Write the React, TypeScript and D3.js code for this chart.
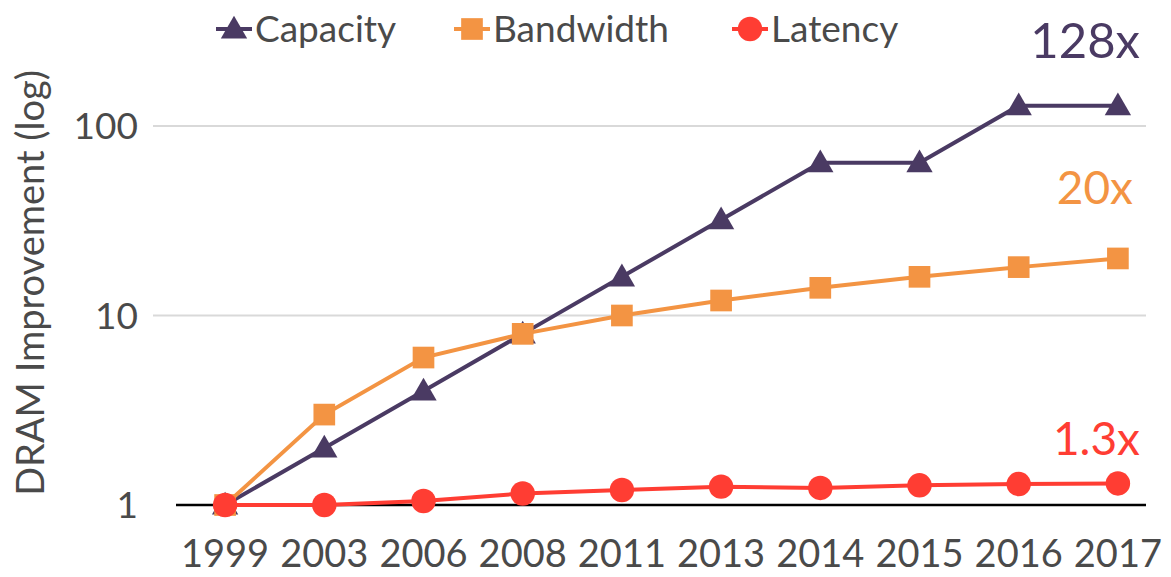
import React from "react";
import * as d3 from "d3";

const years = ["1999", "2003", "2006", "2008", "2011", "2013", "2014", "2015", "2016", "2017"];
const capacity = [1, 2, 4, 8, 16, 32, 64, 64, 128, 128];
const bandwidth = [1, 3, 6, 8, 10, 12, 14, 16, 18, 20];
const latency = [1, 1, 1.05, 1.15, 1.2, 1.25, 1.23, 1.27, 1.29, 1.3];
const yTicks = [1, 10, 100];
const gridValues = [10, 100];
const seriesNames = ["Capacity", "Bandwidth", "Latency"];
const endLabels = ["128x", "20x", "1.3x"];

const W = 1171;
const H = 577;
const FONT = "Lato, 'Open Sans', sans-serif";
const TEXT = "#4a4a4a";
const COLORS = ["#4a3a63", "#f39443", "#ff3d33"];

const x = d3.scaleBand<string>().domain(years).range([175.5, 1167.5]).padding(0);
const y = d3.scaleLog().domain([1, 1000]).range([505, 505 - 3 * 189.5]);
const cx = (d: string) => (x(d) as number) + x.bandwidth() / 2;

const line = d3
  .line<number>()
  .x((_, i) => cx(years[i]))
  .y((v) => y(v));

const triangle = d3.symbol(d3.symbolTriangle, 300)();
const square = d3.symbol(d3.symbolSquare, 470)();
const circle = d3.symbol(d3.symbolCircle, 470)();

function Marker({ kind, color, tx, ty }: { kind: number; color: string; tx: number; ty: number }) {
  const path = kind === 0 ? triangle : kind === 1 ? square : circle;
  const dy = kind === 0 ? 2 : 0;
  return <path d={path!} fill={color} transform={`translate(${tx},${ty + dy})`} />;
}

export default function App() {
  const series = [capacity, bandwidth, latency];
  const legendX = [234, 472, 750];
  const labelPos = [
    { x: 1140, y: 58, size: 49 },
    { x: 1133, y: 204, size: 46 },
    { x: 1140, y: 455, size: 46 },
  ];

  return (
    <svg
      width={W}
      height={H}
      style={{ position: "absolute", left: 0, top: 0, background: "#fff" }}
      fontFamily={FONT}
    >
      {/* horizontal gridlines */}
      {gridValues.map((v) => (
        <line key={v} x1={153} x2={1146} y1={y(v)} y2={y(v)} stroke="#d9d9d9" strokeWidth={2} />
      ))}
      {/* baseline at 1 */}
      <line x1={176} x2={1146} y1={y(1)} y2={y(1)} stroke="#000" strokeWidth={2.5} />

      {/* y tick labels */}
      {yTicks.map((v) => (
        <text key={v} x={138} y={y(v) + 13} textAnchor="end" fontSize={37} fill={TEXT}>
          {d3.format("d")(v)}
        </text>
      ))}

      {/* x tick labels */}
      {years.map((yr) => (
        <text key={yr} x={cx(yr)} y={567} textAnchor="middle" fontSize={38} fill={TEXT}>
          {yr}
        </text>
      ))}

      {/* y axis title */}
      <text
        transform="translate(44,283) rotate(-90)"
        textAnchor="middle"
        fontSize={38}
        fill={TEXT}
      >
        DRAM Improvement (log)
      </text>

      {/* series lines and markers */}
      {series.map((vals, si) => (
        <g key={si}>
          <path d={line(vals)!} fill="none" stroke={COLORS[si]} strokeWidth={4} />
          {vals.map((v, i) => (
            <Marker key={i} kind={si} color={COLORS[si]} tx={cx(years[i])} ty={y(v)} />
          ))}
        </g>
      ))}

      {/* end annotations */}
      {endLabels.map((t, i) => (
        <text
          key={t}
          x={labelPos[i].x}
          y={labelPos[i].y}
          textAnchor="end"
          fontSize={labelPos[i].size}
          fill={COLORS[i]}
        >
          {t}
        </text>
      ))}

      {/* legend */}
      {seriesNames.map((name, i) => (
        <g key={name}>
          <line x1={legendX[i] - 18} x2={legendX[i] + 18} y1={29} y2={29} stroke={COLORS[i]} strokeWidth={4} />
          <Marker kind={i} color={COLORS[i]} tx={legendX[i]} ty={29} />
          <text x={legendX[i] + 21} y={42} fontSize={37} fill={TEXT}>
            {name}
          </text>
        </g>
      ))}
    </svg>
  );
}
